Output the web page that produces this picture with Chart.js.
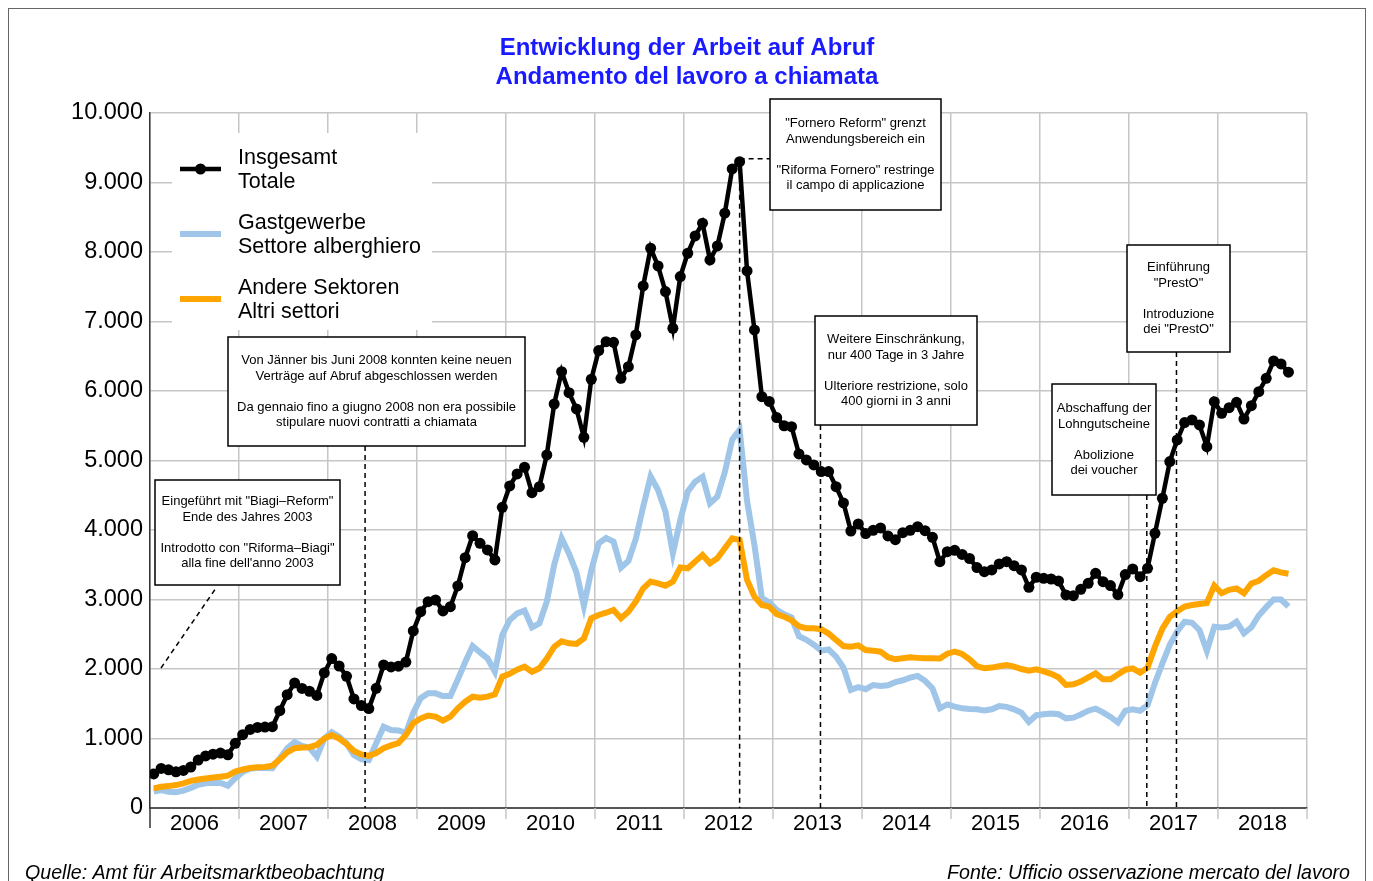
<!DOCTYPE html>
<html>
<head>
<meta charset="utf-8">
<title>Arbeit auf Abruf</title>
<script src="https://cdn.jsdelivr.net/npm/chart.js@4.4.1/dist/chart.umd.min.js"></script>
<style>
  html, body { margin: 0; padding: 0; background: #fff; }
  canvas { display: block; }
</style>
</head>
<body>
<canvas id="abrufChart" width="1373" height="881"></canvas>
<script>
// monthly values, Jan 2006 - Oct 2018
var years = ['2006', '2007', '2008', '2009', '2010', '2011', '2012', '2013', '2014', '2015', '2016', '2017', '2018'];

var insgesamt = [
    490, 570, 550, 520, 540, 590, 690, 750, 775, 790, 765, 930,
    1055, 1130, 1160, 1165, 1170, 1400, 1630, 1800, 1720, 1680, 1620, 1945,
    2150, 2043, 1895, 1570, 1475, 1430, 1722, 2058, 2030, 2040, 2100, 2547,
    2825, 2969, 2993, 2835, 2897, 3195, 3602, 3918, 3809, 3713, 3569, 4327,
    4634, 4806, 4903, 4537, 4624, 5080, 5813, 6278, 5976, 5742, 5334, 6169,
    6581, 6710, 6700, 6183, 6350, 6806, 7512, 8054, 7800, 7430, 6903, 7646,
    7982, 8231, 8414, 7886, 8087, 8558, 9195, 9300, 7727, 6878, 5919, 5850,
    5617, 5500, 5487, 5094, 5008, 4936, 4840, 4840, 4624, 4390, 3985, 4087,
    3948, 3995, 4030, 3915, 3860, 3962, 3995, 4048, 3990, 3895, 3544, 3688,
    3708, 3648, 3590, 3460, 3400, 3425, 3511, 3544, 3487, 3425, 3176, 3320,
    3305, 3295, 3267, 3065, 3055, 3147, 3233, 3377, 3257, 3200, 3070, 3358,
    3440, 3329, 3449, 3953, 4457, 4984, 5296, 5545, 5583, 5511, 5199, 5846,
    5680, 5760, 5837, 5597, 5789, 5990, 6183, 6432, 6389, 6270
];

var gastgewerbe = [
    235, 259, 235, 226, 250, 290, 335, 355, 362, 360, 321, 430,
    520, 565, 578, 575, 571, 715, 859, 950, 895, 868, 738, 1000,
    1090, 1026, 931, 763, 700, 691, 931, 1170, 1122, 1115, 1080, 1370,
    1580, 1650, 1650, 1612, 1612, 1850, 2100, 2330, 2240, 2154, 1961, 2489,
    2705, 2800, 2840, 2600, 2657, 2969, 3500, 3881, 3660, 3390, 2910, 3420,
    3809, 3885, 3832, 3460, 3555, 3870, 4336, 4770, 4576, 4264, 3665, 4144,
    4552, 4696, 4767, 4384, 4480, 4830, 5300, 5440, 4420, 3780, 3020, 2960,
    2850, 2790, 2740, 2470, 2420, 2350, 2264, 2280, 2178, 2020, 1700, 1740,
    1710, 1770, 1756, 1765, 1810, 1838, 1875, 1900, 1830, 1720, 1434, 1490,
    1458, 1434, 1425, 1420, 1405, 1420, 1468, 1455, 1420, 1370, 1240, 1335,
    1348, 1360, 1350, 1290, 1300, 1345, 1400, 1430, 1375, 1310, 1230, 1400,
    1420, 1400, 1480, 1800, 2080, 2350, 2540, 2681, 2666, 2560, 2260, 2609,
    2597, 2610, 2680, 2514, 2600, 2770, 2890, 3000, 3000, 2900
];

var andere = [
    283, 305, 315, 330, 355, 390, 410, 425, 440, 450, 465, 525,
    555, 575, 585, 590, 610, 700, 800, 860, 870, 875, 910, 1000,
    1050, 1000, 920, 820, 770, 750, 790, 860, 900, 935, 1050, 1220,
    1290, 1330, 1314, 1256, 1314, 1434, 1530, 1602, 1587, 1602, 1636, 1890,
    1930, 1990, 2033, 1961, 2010, 2150, 2320, 2400, 2370, 2360, 2442, 2730,
    2777, 2810, 2849, 2730, 2825, 2970, 3161, 3257, 3233, 3199, 3257, 3460,
    3449, 3545, 3641, 3521, 3593, 3737, 3881, 3857, 3281, 3041, 2921, 2897,
    2790, 2753, 2700, 2615, 2586, 2586, 2572, 2510, 2418, 2331, 2320, 2340,
    2274, 2264, 2249, 2170, 2140, 2154, 2168, 2160, 2154, 2154, 2150, 2220,
    2249, 2216, 2140, 2040, 2010, 2020, 2040, 2058, 2035, 2000, 1976, 1995,
    1965, 1930, 1880, 1770, 1780, 1820, 1880, 1938, 1852, 1852, 1920, 1990,
    2010, 1947, 2020, 2321, 2580, 2750, 2830, 2897, 2920, 2935, 2950, 3200,
    3090, 3140, 3160, 3090, 3230, 3270, 3350, 3420, 3390, 3370
];

// month positions (0 = start of 2006) of the dashed event lines
var eventMonths = [29, 79.5, 90.4, 134.4, 138.4];

var FONT = "'Liberation Sans', Arial, sans-serif";
var GRID = '#c6c6c6';

var notes = [
    { x: 155, y: 480, w: 185, h: 105, lines: ['Eingeführt mit "Biagi\u2013Reform"', 'Ende des Jahres 2003', '', 'Introdotto con "Riforma\u2013Biagi"', "alla fine dell'anno 2003"] },
    { x: 228, y: 337, w: 297, h: 109, lines: ['Von Jänner bis Juni 2008 konnten keine neuen', 'Verträge auf Abruf abgeschlossen werden', '', 'Da gennaio fino a giugno 2008 non era possibile', 'stipulare nuovi contratti a chiamata'] },
    { x: 770, y: 99, w: 171, h: 111, lines: ['"Fornero Reform" grenzt', 'Anwendungsbereich ein', '', '"Riforma Fornero" restringe', 'il campo di applicazione'] },
    { x: 815, y: 316, w: 162, h: 109, lines: ['Weitere Einschränkung,', 'nur 400 Tage in 3 Jahre', '', 'Ulteriore restrizione, solo', '400 giorni in 3 anni'] },
    { x: 1052, y: 384, w: 104, h: 111, lines: ['Abschaffung der', 'Lohngutscheine', '', 'Abolizione', 'dei voucher'] },
    { x: 1127, y: 245, w: 103, h: 107, lines: ['Einführung', '"PrestO"', '', 'Introduzione', 'dei "PrestO"'] }
];

function toPoints(values) {
    return values.map(function (v, i) { return { x: i + 0.5, y: v }; });
}

function fmt(v) {
    return String(v).replace(/\B(?=(\d{3})+(?!\d))/g, '.');
}

function dashed(ctx, x1, y1, x2, y2) {
    ctx.save();
    ctx.strokeStyle = '#000';
    ctx.lineWidth = 1.5;
    ctx.setLineDash([5, 4]);
    ctx.beginPath();
    ctx.moveTo(x1, y1);
    ctx.lineTo(x2, y2);
    ctx.stroke();
    ctx.restore();
}

var decorations = {
    id: 'decorations',
    beforeDraw: function (chart) {
        var ctx = chart.ctx;
        ctx.save();
        ctx.fillStyle = '#fff';
        ctx.fillRect(0, 0, chart.width, chart.height);
        ctx.strokeStyle = '#666';
        ctx.lineWidth = 1;
        ctx.strokeRect(8.5, 8.5, 1357, 900);

        ctx.fillStyle = '#1a1aff';
        ctx.font = 'bold 24px ' + FONT;
        ctx.textAlign = 'center';
        ctx.textBaseline = 'middle';
        ctx.fillText('Entwicklung der Arbeit auf Abruf', 687, 48);
        ctx.fillText('Andamento del lavoro a chiamata', 687, 77);

        ctx.fillStyle = '#000';
        ctx.font = 'italic 19.6px ' + FONT;
        ctx.textBaseline = 'alphabetic';
        ctx.textAlign = 'left';
        ctx.fillText('Quelle: Amt für Arbeitsmarktbeobachtung', 25, 879);
        ctx.textAlign = 'right';
        ctx.fillText('Fonte: Ufficio osservazione mercato del lavoro', 1350, 879);
        ctx.restore();
    },
    beforeDatasetsDraw: function (chart) {
        var ctx = chart.ctx;
        ctx.save();
        // legend
        ctx.fillStyle = '#fff';
        ctx.fillRect(172, 133, 260, 197);
        var items = [
            { y: 169, color: '#000', width: 4.5, dot: true, text: ['Insgesamt', 'Totale'] },
            { y: 234, color: '#9fc5e8', width: 6, dot: false, text: ['Gastgewerbe', 'Settore alberghiero'] },
            { y: 299, color: '#ffa500', width: 6, dot: false, text: ['Andere Sektoren', 'Altri settori'] }
        ];
        items.forEach(function (it) {
            ctx.strokeStyle = it.color;
            ctx.lineWidth = it.width;
            ctx.beginPath();
            ctx.moveTo(180, it.y);
            ctx.lineTo(221, it.y);
            ctx.stroke();
            if (it.dot) {
                ctx.fillStyle = it.color;
                ctx.beginPath();
                ctx.arc(200.5, it.y, 5.5, 0, Math.PI * 2);
                ctx.fill();
            }
            ctx.fillStyle = '#000';
            ctx.font = '21.5px ' + FONT;
            ctx.textAlign = 'left';
            ctx.textBaseline = 'middle';
            ctx.fillText(it.text[0], 238, it.y - 11);
            ctx.fillText(it.text[1], 238, it.y + 13);
        });

        // note boxes
        notes.forEach(function (n) {
            ctx.fillStyle = '#fff';
            ctx.fillRect(n.x, n.y, n.w, n.h);
            ctx.strokeStyle = '#000';
            ctx.lineWidth = 1.5;
            ctx.strokeRect(n.x, n.y, n.w, n.h);
            ctx.fillStyle = '#000';
            ctx.font = '13px ' + FONT;
            ctx.textAlign = 'center';
            ctx.textBaseline = 'middle';
            var lh = 15.5;
            var y0 = n.y + n.h / 2 - (n.lines.length - 1) / 2 * lh;
            n.lines.forEach(function (t, i) {
                ctx.fillText(t, n.x + n.w / 2, y0 + i * lh);
            });
        });
        ctx.restore();
    },
    afterDatasetsDraw: function (chart) {
        var ctx = chart.ctx;
        var xs = chart.scales.x, ys = chart.scales.y;
        var bottom = chart.chartArea.bottom;

        dashed(ctx, 161, 668, 216, 588);
        var x2008 = xs.getPixelForValue(eventMonths[0]);
        dashed(ctx, x2008, notes[1].y + notes[1].h, x2008, bottom);
        var xPeak = xs.getPixelForValue(eventMonths[1]);
        var yPeak = ys.getPixelForValue(insgesamt[79]) - 3;
        dashed(ctx, xPeak, yPeak, notes[2].x, yPeak);
        dashed(ctx, xPeak, yPeak, xPeak, bottom);
        var x2013 = xs.getPixelForValue(eventMonths[2]);
        dashed(ctx, x2013, notes[3].y + notes[3].h, x2013, bottom);
        var xV = xs.getPixelForValue(eventMonths[3]);
        dashed(ctx, xV, notes[4].y + notes[4].h, xV, bottom);
        var xP = xs.getPixelForValue(eventMonths[4]);
        dashed(ctx, xP, notes[5].y + notes[5].h, xP, bottom);

        // year ticks below the axis
        ctx.save();
        for (var v = 0; v <= 156; v += 12) {
            var px = xs.getPixelForValue(v);
            ctx.strokeStyle = v === 0 ? '#333' : GRID;
            ctx.lineWidth = 1.5;
            ctx.beginPath();
            ctx.moveTo(px, bottom);
            ctx.lineTo(px, bottom + (v === 0 ? 20 : 11));
            ctx.stroke();
        }
        ctx.restore();
    }
};

var ctx = document.getElementById('abrufChart').getContext('2d');
var abrufChart = new Chart(ctx, {
    type: 'line',
    data: {
        datasets: [{
            label: 'Insgesamt / Totale',
            data: toPoints(insgesamt),
            borderColor: '#000',
            backgroundColor: '#000',
            borderWidth: 4.5,
            pointRadius: 5.5,
            pointBorderWidth: 0,
            pointBackgroundColor: '#000',
            tension: 0,
            order: 1
        }, {
            label: 'Andere Sektoren / Altri settori',
            data: toPoints(andere),
            borderColor: '#ffa500',
            borderWidth: 6,
            pointRadius: 0,
            tension: 0,
            order: 2
        }, {
            label: 'Gastgewerbe / Settore alberghiero',
            data: toPoints(gastgewerbe),
            borderColor: '#9fc5e8',
            borderWidth: 6,
            pointRadius: 0,
            tension: 0,
            order: 3
        }]
    },
    options: {
        responsive: false,
        animation: false,
        devicePixelRatio: 1,
        layout: { padding: { top: 113, left: 0, right: 66, bottom: 33 } },
        plugins: {
            legend: { display: false },
            tooltip: { enabled: false },
            title: { display: false }
        },
        scales: {
            x: {
                type: 'linear',
                min: 0,
                max: 156,
                afterBuildTicks: function (scale) {
                    var t = [];
                    for (var v = 0; v <= 156; v += 6) t.push({ value: v });
                    scale.ticks = t;
                },
                afterFit: function (scale) { scale.height = 40; },
                grid: {
                    drawTicks: false,
                    lineWidth: 1.5,
                    color: function (c) {
                        return c.tick && c.tick.value % 12 === 0 ? GRID : 'rgba(0,0,0,0)';
                    }
                },
                border: { color: '#555', width: 2 },
                ticks: {
                    autoSkip: false,
                    maxRotation: 0,
                    padding: 3,
                    color: '#000',
                    font: { size: 22, family: FONT },
                    callback: function (v) { return v % 12 === 6 ? years[(v - 6) / 12] : ''; }
                }
            },
            y: {
                min: 0,
                max: 10000,
                afterFit: function (scale) { scale.width = 150; },
                grid: { drawTicks: false, color: GRID, lineWidth: 1.5 },
                border: { color: '#333', width: 1.5 },
                ticks: {
                    stepSize: 1000,
                    padding: 7,
                    color: '#000',
                    font: { size: 23.5, family: FONT },
                    callback: function (v) { return fmt(v); }
                }
            }
        }
    },
    plugins: [decorations]
});
</script>
</body>
</html>
